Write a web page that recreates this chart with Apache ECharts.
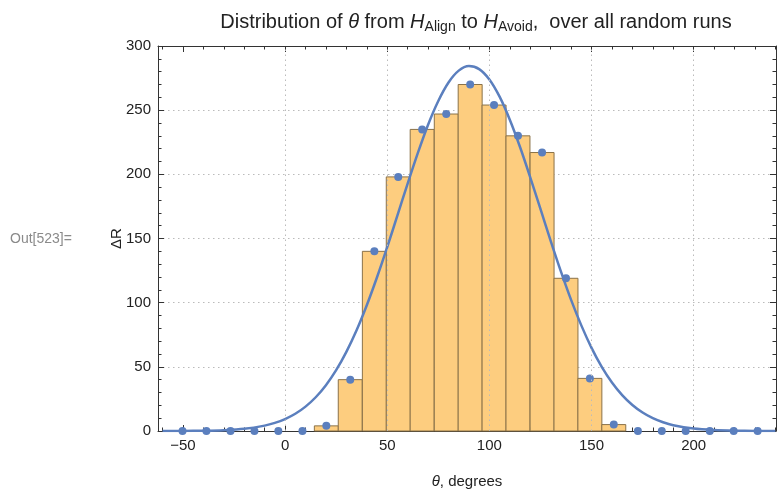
<!DOCTYPE html>
<html>
<head>
<meta charset="utf-8">
<script src="https://cdn.jsdelivr.net/npm/echarts@6/dist/echarts.min.js"></script>
<style>
  html, body { margin: 0; padding: 0; background: #fff; }
  #chart { width: 778px; height: 491px; }
</style>
</head>
<body>
<div id="chart"></div>
<script>
// histogram bins (centres in degrees) and counts
var binCenters = [-50.2, -38.5, -26.7, -15.0, -3.3, 8.5, 20.2, 31.9, 43.7, 55.4, 67.1, 78.9, 90.6,
                  102.3, 114.0, 125.8, 137.5, 149.2, 160.9, 172.7, 184.4, 196.1, 207.9, 219.6, 231.3];
var binCounts = [0, 0, 0, 0, 0, 0, 4, 40, 140, 198, 235, 247, 270,
                 254, 230, 217, 119, 41, 5, 0, 0, 0, 0, 0, 0];
var binWidth = 11.73;

// fitted curve
var curveX = [-60, -50, -40, -30, -20, -10, -5, 0, 5, 10, 15, 20, 25, 30, 35, 40, 45, 50, 55, 60, 65, 70,
              75, 80, 85, 90, 95, 100, 105, 110, 115, 120, 125, 130, 135, 140, 145, 150, 155, 160,
              165, 170, 175, 180, 185, 190, 200, 210, 220, 230, 240];
var curveY = [0.02, 0.07, 0.23, 0.66, 1.7, 4.2, 6.3, 9.3, 13.4, 19.0, 26.3, 35.7, 47.4, 61.7, 78.5, 98.0,
              119.8, 143.3, 168.0, 192.8, 216.7, 238.7, 257.2, 271.6, 280.8, 284.4, 282.0, 273.9, 260.5,
              242.6, 221.3, 197.7, 173.0, 148.2, 124.4, 102.2, 82.3, 64.8, 50.0, 37.8, 28.0, 20.3, 14.4,
              10.0, 6.8, 4.5, 1.9, 0.75, 0.26, 0.08, 0.03];

var xMajor = [-50, 0, 50, 100, 150, 200];
var xMinor = [-60, -40, -30, -20, -10, 10, 20, 30, 40, 60, 70, 80, 90, 110, 120, 130, 140,
              160, 170, 180, 190, 210, 220, 230, 240];
var xGrid = [0, 50, 100, 150, 200];

var blue = '#5b7fbe';
var frame = '#333';
var font = 'Liberation Sans, Arial';

var barData = [];
var dotData = [];
for (var i = 0; i < binCenters.length; i++) {
    if (binCounts[i] > 0) barData.push([binCenters[i], binCounts[i]]);
    dotData.push([binCenters[i], binCounts[i]]);
}
var curveData = curveX.map(function (x, i) { return [x, curveY[i]]; });

var myChart = echarts.init(document.getElementById('chart'));

function xAxisDef(pos, ticks, len, showLine, showLabel) {
    return {
        type: 'value', position: pos, min: -62.2, max: 240.3,
        axisLine: { show: showLine, onZero: false, lineStyle: { color: frame, width: 1 } },
        axisTick: { show: true, inside: true, length: len, customValues: ticks, lineStyle: { color: frame } },
        axisLabel: {
            show: showLabel, customValues: ticks, color: '#222', fontSize: 15,
            fontFamily: font, margin: 7,
            formatter: function (v) { return String(v).replace('-', '\u2212'); }
        },
        splitLine: { show: false }
    };
}

function yAxisDef(pos, showLabel) {
    return {
        type: 'value', position: pos, min: 0, max: 300, interval: 50,
        axisLine: { show: true, onZero: false, lineStyle: { color: frame, width: 1 } },
        axisTick: { show: true, inside: true, length: 6, lineStyle: { color: frame } },
        minorTick: { show: true, splitNumber: 5, length: 3.5, lineStyle: { color: frame } },
        axisLabel: { show: showLabel, color: '#222', fontSize: 15, fontFamily: font, margin: 7 },
        splitLine: { show: pos === 'left', lineStyle: { color: '#bbb', type: [1.5, 3.5], width: 1 } }
    };
}

var xa = xAxisDef('bottom', xMajor, 6, true, true);
xa.name = '{i|\u03b8}, degrees';
xa.nameLocation = 'middle';
xa.nameGap = 43;
xa.nameMoveOverlap = false;
xa.nameTextStyle = {
    color: '#222', fontSize: 15, fontFamily: font,
    rich: { i: { fontStyle: 'italic', fontSize: 15, fontFamily: font, color: '#222' } }
};

var ya = yAxisDef('left', true);
ya.name = '\u0394R';
ya.nameLocation = 'middle';
ya.nameGap = 34;
ya.nameRotate = 90;
ya.nameMoveOverlap = false;
ya.nameTextStyle = { color: '#222', fontSize: 15, fontFamily: font };

var option = {
    animation: false,
    title: {
        text: 'Distribution of {i|\u03b8} from {i|H}{sub|Align} to {i|H}{sub|Avoid},  over all random runs',
        left: 471, top: 5, textAlign: 'center',
        textStyle: {
            color: '#222', fontSize: 20, fontWeight: 'normal', fontFamily: font,
            rich: {
                i: { fontStyle: 'italic', fontSize: 20, fontFamily: font, color: '#222' },
                sub: { fontSize: 14, fontFamily: font, color: '#222',
                       verticalAlign: 'bottom', padding: [10, 0, 0, 0] }
            }
        }
    },
    graphic: [{
        type: 'text', left: 10, top: 232,
        style: { text: 'Out[523]=', fill: '#8a8a8a', fontSize: 14, fontFamily: font }
    }],
    grid: { left: 158, right: 2, top: 46, bottom: 60, containLabel: false, outerBoundsMode: 'none' },
    xAxis: [
        xa,
        xAxisDef('bottom', xMinor, 3.5, false, false),
        xAxisDef('top', xMajor, 6, true, false),
        xAxisDef('top', xMinor, 3.5, false, false)
    ],
    yAxis: [ya, yAxisDef('right', false)],
    series: [
        {
            type: 'scatter', data: [], z: 1, silent: true,
            markLine: {
                silent: true, symbol: 'none', label: { show: false },
                lineStyle: { color: '#bbb', type: [1.5, 3.5], width: 1 },
                data: xGrid.map(function (v) { return { xAxis: v }; })
            }
        },
        {
            type: 'custom', z: 2, data: barData,
            renderItem: function (params, api) {
                var c = api.value(0), h = api.value(1);
                var p0 = api.coord([c - binWidth / 2, h]);
                var p1 = api.coord([c + binWidth / 2, 0]);
                return {
                    type: 'rect',
                    shape: { x: p0[0], y: p0[1], width: p1[0] - p0[0], height: p1[1] - p0[1] },
                    style: { fill: '#fdcd7f', stroke: '#8a7249', lineWidth: 1 }
                };
            }
        },
        {
            type: 'line', z: 3, data: curveData, smooth: 0.3, showSymbol: false,
            lineStyle: { color: blue, width: 2.5 }, clip: true
        },
        {
            type: 'scatter', z: 4, data: dotData, symbolSize: 8,
            itemStyle: { color: blue, opacity: 1 }
        }
    ]
};

myChart.setOption(option);
</script>
</body>
</html>
